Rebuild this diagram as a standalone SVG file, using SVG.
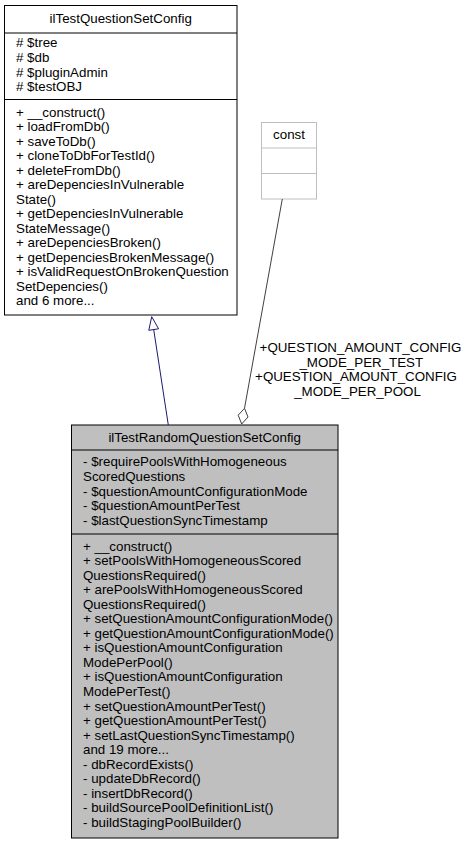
<svg xmlns="http://www.w3.org/2000/svg" width="467" height="844" viewBox="0 0 467 844">
<style>
text{font-family:"Liberation Sans",Arial,Helvetica,sans-serif;font-size:13.33px;fill:#000}
.c{text-anchor:middle}
.box{stroke:#000;stroke-width:1}
.div{stroke:#000;stroke-width:1}
.gbox{fill:#fff;stroke:#bfbfbf;stroke-width:1}
.gdiv{stroke:#bfbfbf;stroke-width:1}
.inh{stroke:#191970;stroke-width:1;fill:none}
.agg{stroke:#404040;stroke-width:1;fill:none}
</style>
<rect width="467" height="844" fill="#fff"/>
<g id="node-ilTestQuestionSetConfig">
<rect class="box" x="4.5" y="5.5" width="232.5" height="309.5" fill="#fff"/>
<line class="div" x1="4.5" y1="33" x2="237" y2="33"/>
<line class="div" x1="4.5" y1="99.5" x2="237" y2="99.5"/>
<text class="c" x="120.7" y="23">ilTestQuestionSetConfig</text>
<text x="16" y="47.3"># $tree</text>
<text x="16" y="62"># $db</text>
<text x="16" y="76.6"># $pluginAdmin</text>
<text x="16" y="91.3"># $testOBJ</text>
<text x="16" y="116.8">+ __construct()</text>
<text x="16" y="131.3">+ loadFromDb()</text>
<text x="16" y="145.8">+ saveToDb()</text>
<text x="16" y="160.3">+ cloneToDbForTestId()</text>
<text x="16" y="174.8">+ deleteFromDb()</text>
<text x="16" y="189.3">+ areDepenciesInVulnerable</text>
<text x="16" y="203.8">State()</text>
<text x="16" y="218.3">+ getDepenciesInVulnerable</text>
<text x="16" y="232.8">StateMessage()</text>
<text x="16" y="247.3">+ areDepenciesBroken()</text>
<text x="16" y="261.8">+ getDepenciesBrokenMessage()</text>
<text x="16" y="276.3">+ isValidRequestOnBrokenQuestion</text>
<text x="16" y="290.8">SetDepencies()</text>
<text x="16" y="305.3">and 6 more...</text>
</g>
<g id="node-const">
<rect class="gbox" x="261.5" y="122.5" width="55" height="76.5"/>
<line class="gdiv" x1="261.5" y1="148" x2="316.5" y2="148"/>
<line class="gdiv" x1="261.5" y1="173.5" x2="316.5" y2="173.5"/>
<text class="c" x="289" y="139">const</text>
</g>
<g id="node-ilTestRandomQuestionSetConfig">
<rect class="box" x="71.5" y="425" width="266.5" height="413" fill="#bfbfbf"/>
<line class="div" x1="71.5" y1="450" x2="338" y2="450"/>
<line class="div" x1="71.5" y1="534" x2="338" y2="534"/>
<text class="c" x="204.7" y="441.5">ilTestRandomQuestionSetConfig</text>
<text x="83" y="466.3">- $requirePoolsWithHomogeneous</text>
<text x="83" y="481">ScoredQuestions</text>
<text x="83" y="495.6">- $questionAmountConfigurationMode</text>
<text x="83" y="510.3">- $questionAmountPerTest</text>
<text x="83" y="525">- $lastQuestionSyncTimestamp</text>
<text x="83" y="550.5">+ __construct()</text>
<text x="83" y="565.05">+ setPoolsWithHomogeneousScored</text>
<text x="83" y="579.6">QuestionsRequired()</text>
<text x="83" y="594.15">+ arePoolsWithHomogeneousScored</text>
<text x="83" y="608.7">QuestionsRequired()</text>
<text x="83" y="623.25">+ setQuestionAmountConfigurationMode()</text>
<text x="83" y="637.8">+ getQuestionAmountConfigurationMode()</text>
<text x="83" y="652.35">+ isQuestionAmountConfiguration</text>
<text x="83" y="666.9">ModePerPool()</text>
<text x="83" y="681.45">+ isQuestionAmountConfiguration</text>
<text x="83" y="696">ModePerTest()</text>
<text x="83" y="710.55">+ setQuestionAmountPerTest()</text>
<text x="83" y="725.1">+ getQuestionAmountPerTest()</text>
<text x="83" y="739.65">+ setLastQuestionSyncTimestamp()</text>
<text x="83" y="754.2">and 19 more...</text>
<text x="83" y="768.75">- dbRecordExists()</text>
<text x="83" y="783.3">- updateDbRecord()</text>
<text x="83" y="797.85">- insertDbRecord()</text>
<text x="83" y="812.4">- buildSourcePoolDefinitionList()</text>
<text x="83" y="826.95">- buildStagingPoolBuilder()</text>
</g>
<g id="connectors">
<g id="edge-inheritance">
<line class="inh" x1="168.3" y1="425" x2="153.7" y2="329.5"/>
<polygon class="inh" points="151.7,316.7 158.6,328.8 148.8,330.3" fill="#fff"/>
</g>
<g id="edge-aggregation">
<line class="agg" x1="282.3" y1="199" x2="244.5" y2="408.3"/>
<polygon class="agg" points="241.7,424 238.2,415.2 244.5,408.3 248,417" fill="#fff"/>
<text class="c" x="360.5" y="352.2">+QUESTION_AMOUNT_CONFIG</text>
<text class="c" x="361.3" y="366.8">_MODE_PER_TEST</text>
<text class="c" x="356" y="381.2">+QUESTION_AMOUNT_CONFIG</text>
<text class="c" x="357.5" y="395.6">_MODE_PER_POOL</text>
</g>
</g>
</svg>
